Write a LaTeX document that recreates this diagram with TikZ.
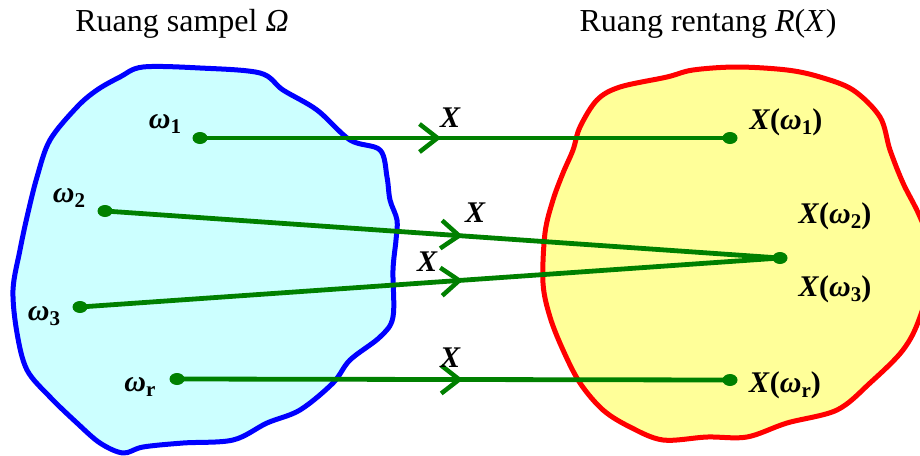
\documentclass[tikz,border=0pt]{standalone}
\usepackage{fontspec}
\setmainfont{Liberation Serif}
\usetikzlibrary{arrows.meta,decorations.markings,shapes.geometric}
\definecolor{dgreen}{RGB}{0,128,0}
\definecolor{lcyan}{RGB}{204,255,255}
\definecolor{lyellow}{RGB}{255,255,153}
\newcommand{\lowsub}[1]{\raisebox{-0.4ex}{\fontsize{21}{21}\selectfont\upshape #1}}
\begin{document}
\begin{tikzpicture}[x=1pt,y=-1pt,
  dot/.style={ellipse, fill=dgreen, inner sep=0pt, minimum width=15pt, minimum height=12pt},
  lbl/.style={font=\fontsize{30}{32}\selectfont\bfseries\itshape, inner sep=0pt},
  ttl/.style={font=\fontsize{32}{34}\selectfont, inner sep=0pt},
  link/.style={draw=dgreen, line width=4.8pt, postaction={decorate},
    decoration={markings, mark=at position #1 with {\arrow{Straight Barb[length=18pt,width=28pt,line width=4.5pt,color=dgreen]}}}},
  blob/.style={line width=5pt, line join=round}
]
\useasboundingbox (0,0) rectangle (920,455);
\fill[white] (0,0) rectangle (920,455);

% left blob
\draw[blob, draw=blue, fill=lcyan] plot[smooth cycle, tension=0.55] coordinates {
(143,67) (200,68) (260,73) (283,90) (317,110) (350,140) (380,150) (387,177) (390,200) (397,220) (396,240) (393,270) (393,317) (380,337) (350,360) (333,383) (300,410) (267,423) (233,440) (183,443) (143,447) (123,453) (100,443) (77,423) (50,397) (27,370) (17,333) (13,290) (20,250) (27,217) (37,177) (50,140) (77,107) (97,90) (120,77)};

% right blob
\draw[blob, draw=red, fill=lyellow] plot[smooth cycle, tension=0.55] coordinates {
(737,67) (787,70) (820,77) (853,90) (880,117) (890,150) (903,183) (920,217) (935,260) (920,317) (903,350) (870,383) (837,410) (787,423) (747,437) (707,437) (663,440) (630,427) (603,410) (580,383) (563,350) (550,317) (543,283) (545,233) (553,200) (563,173) (573,150) (580,127) (597,100) (620,87) (667,77) (693,70)};

% titles
\node[ttl] (t1) at (182,24) {Ruang sampel \textit{Ω}};
\node[ttl] (t2) at (708,24) {Ruang rentang \textit{R}(\textit{X})};

% dots
\node[dot] (w1) at (200,138) {};
\node[dot] (w2) at (105,211) {};
\node[dot] (w3) at (80,307) {};
\node[dot] (wr) at (177,379) {};
\node[dot] (xw1) at (730,138) {};
\node[dot] (xw23) at (780,258) {};
\node[dot] (xwr) at (730,380) {};

% connectors
\draw[link=0.455] (w1.center) -- (xw1.center);
\draw[link=0.53] (w2.center) -- (xw23.center);
\draw[link=0.547] (w3.center) -- (xw23.center);
\draw[link=0.517] (wr.center) -- (xwr.center);

% labels
\node[lbl] (l1) at (165,124) {ω\lowsub{1}};
\node[lbl] (l2) at (69,198) {ω\lowsub{2}};
\node[lbl] (l3) at (44,316) {ω\lowsub{3}};
\node[lbl] (lr) at (140,387) {ω\lowsub{r}};
\node[lbl] (m1) at (786,122) {X\textup{(}ω\lowsub{1}\textup{)}};
\node[lbl] (m2) at (835,216) {X\textup{(}ω\lowsub{2}\textup{)}};
\node[lbl] (m3) at (835,289) {X\textup{(}ω\lowsub{3}\textup{)}};
\node[lbl] (mr) at (785,385) {X\textup{(}ω\lowsub{r}\textup{)}};
\node[lbl] (x1) at (450,118) {X};
\node[lbl] (x2) at (475,213) {X};
\node[lbl] (x3) at (427,262) {X};
\node[lbl] (x4) at (450,358) {X};
\end{tikzpicture}
\end{document}
